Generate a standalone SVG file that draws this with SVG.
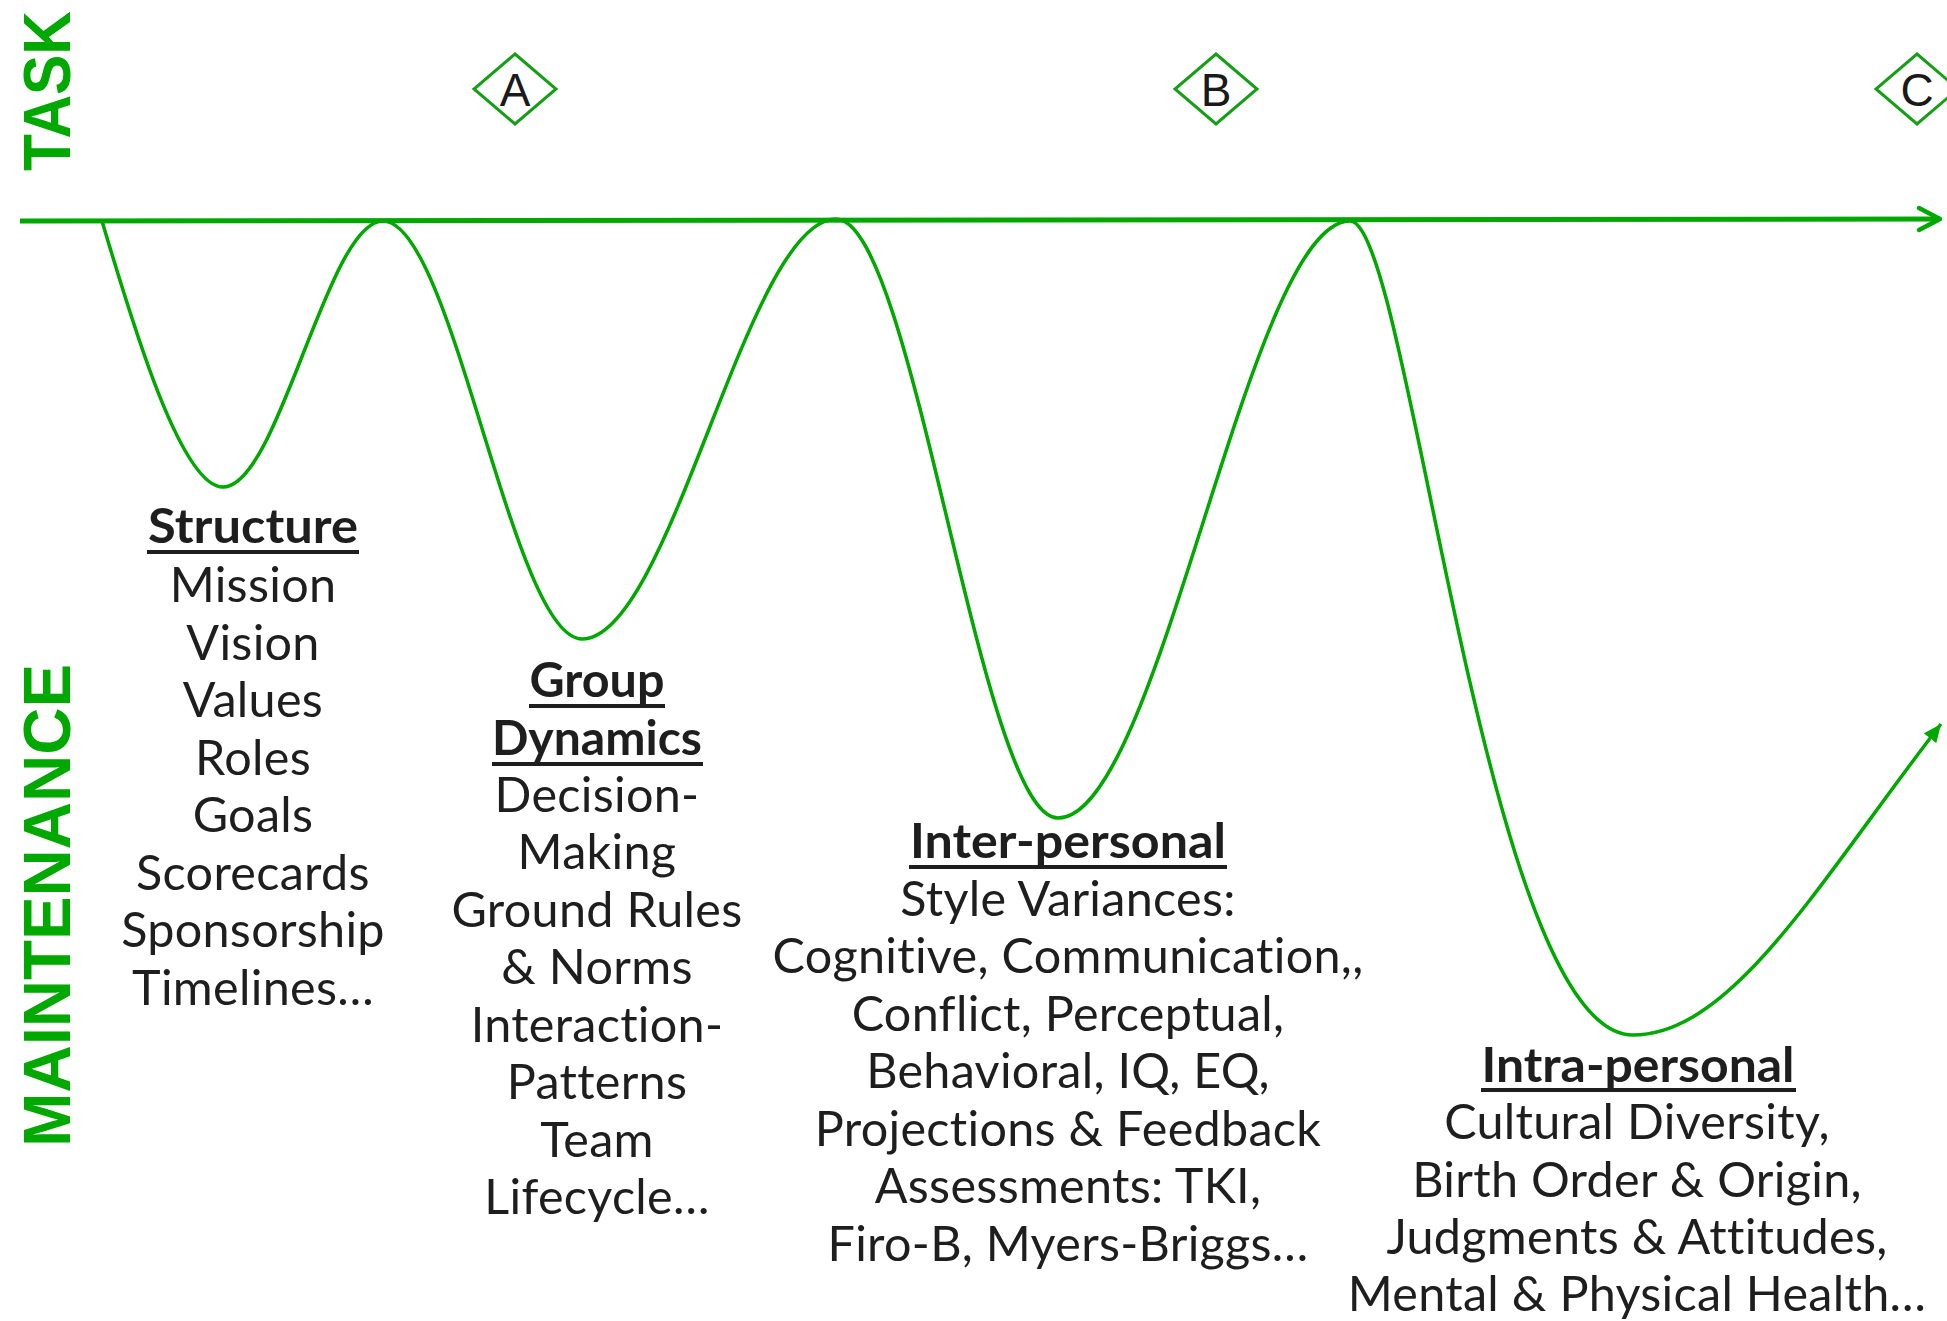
<svg xmlns="http://www.w3.org/2000/svg" width="1947" height="1321" viewBox="0 0 1947 1321">
<style>
  .ax { fill: #00a800; font-family: "Liberation Sans", Arial, sans-serif; font-weight: bold; font-size: 66px; }
  .body { fill: #1e1e1e; font-family: Lato, "Noto Sans", sans-serif; font-size: 48.5px; letter-spacing: 0.3px; text-anchor: middle; }
  .head { font-weight: bold; letter-spacing: 0; }
  .ul { stroke: #1e1e1e; stroke-width: 4; }
  .dia { fill: none; stroke: #169e16; stroke-width: 3; }
  .letter { fill: #1a1a1a; font-family: "Liberation Sans Narrow", "Liberation Sans", sans-serif; font-size: 46px; text-anchor: middle; }
  .curve { fill: none; stroke: #00a800; stroke-width: 3.5; }
</style>
<defs>
  <marker id="tri" markerWidth="20" markerHeight="16" refX="18" refY="8" orient="auto" markerUnits="userSpaceOnUse">
    <path d="M0,0 L18,8 L0,16 Z" fill="#00a800"/>
  </marker>
</defs>
<rect width="1947" height="1321" fill="#ffffff"/>

<g id="axis-labels">
  <text class="ax" transform="translate(70,91) rotate(-90)" text-anchor="middle" textLength="160" lengthAdjust="spacingAndGlyphs">TASK</text>
  <text class="ax" transform="translate(70,905.5) rotate(-90)" text-anchor="middle" textLength="483" lengthAdjust="spacingAndGlyphs">MAINTENANCE</text>
</g>

<g id="milestone-A">
  <polygon class="dia" points="515,54 556,89 515,124 474,89"/>
  <text class="letter" x="515" y="106">A</text>
</g>
<g id="milestone-B">
  <polygon class="dia" points="1216,54 1257,89 1216,124 1175,89"/>
  <text class="letter" x="1216" y="106">B</text>
</g>
<g id="milestone-C">
  <polygon class="dia" points="1917,54 1958,89 1917,124 1876,89"/>
  <text class="letter" x="1917" y="106">C</text>
</g>

<g id="connectors">
  <line x1="20" y1="221" x2="1938" y2="219" stroke="#00a800" stroke-width="5"/>
  <polyline points="1919,208 1940,219 1919,230" fill="none" stroke="#00a800" stroke-width="4.5" stroke-linecap="round" stroke-linejoin="round"/>
  <path class="curve" marker-end="url(#tri)" d="M102,221 C130,315 180,487 223,487 C279,487 327,221 383,221 C453,221 512,639 582,639 C671,639 747,219 836,219 C914,219 980,818 1058,818 C1160,818 1248,221 1350,221 C1410,221 1483,1035 1633,1035 C1733,1035 1821,879 1941,724"/>
</g>

<g id="structure">
  <text class="body head" x="253" y="543" textLength="210" lengthAdjust="spacingAndGlyphs">Structure</text>
  <line class="ul" x1="147" y1="552" x2="359" y2="552"/>
  <text class="body" x="253" y="602">Mission</text>
  <text class="body" x="253" y="660">Vision</text>
  <text class="body" x="253" y="717">Values</text>
  <text class="body" x="253" y="775">Roles</text>
  <text class="body" x="253" y="832">Goals</text>
  <text class="body" x="253" y="890">Scorecards</text>
  <text class="body" x="253" y="947">Sponsorship</text>
  <text class="body" x="253" y="1005">Timelines…</text>
</g>

<g id="group-dynamics">
  <text class="body head" x="597" y="697" textLength="135" lengthAdjust="spacingAndGlyphs">Group</text>
  <line class="ul" x1="529" y1="706" x2="665" y2="706"/>
  <text class="body head" x="597" y="755" textLength="210" lengthAdjust="spacingAndGlyphs">Dynamics</text>
  <line class="ul" x1="492" y1="764" x2="703" y2="764"/>
  <text class="body" x="597" y="812">Decision-</text>
  <text class="body" x="597" y="869">Making</text>
  <text class="body" x="597" y="927">Ground Rules</text>
  <text class="body" x="597" y="984">&amp; Norms</text>
  <text class="body" x="597" y="1042">Interaction-</text>
  <text class="body" x="597" y="1099">Patterns</text>
  <text class="body" x="597" y="1157">Team</text>
  <text class="body" x="597" y="1214">Lifecycle…</text>
</g>

<g id="inter-personal">
  <text class="body head" x="1068" y="858" textLength="316" lengthAdjust="spacingAndGlyphs">Inter-personal</text>
  <line class="ul" x1="909" y1="867" x2="1227" y2="867"/>
  <text class="body" x="1068" y="916">Style Variances:</text>
  <text class="body" x="1068" y="973">Cognitive, Communication,,</text>
  <text class="body" x="1068" y="1031">Conflict, Perceptual,</text>
  <text class="body" x="1068" y="1088">Behavioral, IQ, EQ,</text>
  <text class="body" x="1068" y="1146">Projections &amp; Feedback</text>
  <text class="body" x="1068" y="1203">Assessments: TKI,</text>
  <text class="body" x="1068" y="1261">Firo-B, Myers-Briggs…</text>
</g>

<g id="intra-personal">
  <text class="body head" x="1638" y="1082" textLength="313" lengthAdjust="spacingAndGlyphs">Intra-personal</text>
  <line class="ul" x1="1481" y1="1090" x2="1796" y2="1090"/>
  <text class="body" x="1637" y="1139">Cultural Diversity,</text>
  <text class="body" x="1637" y="1197">Birth Order &amp; Origin,</text>
  <text class="body" x="1637" y="1254">Judgments &amp; Attitudes,</text>
  <text class="body" x="1637" y="1311">Mental &amp; Physical Health…</text>
</g>
</svg>
